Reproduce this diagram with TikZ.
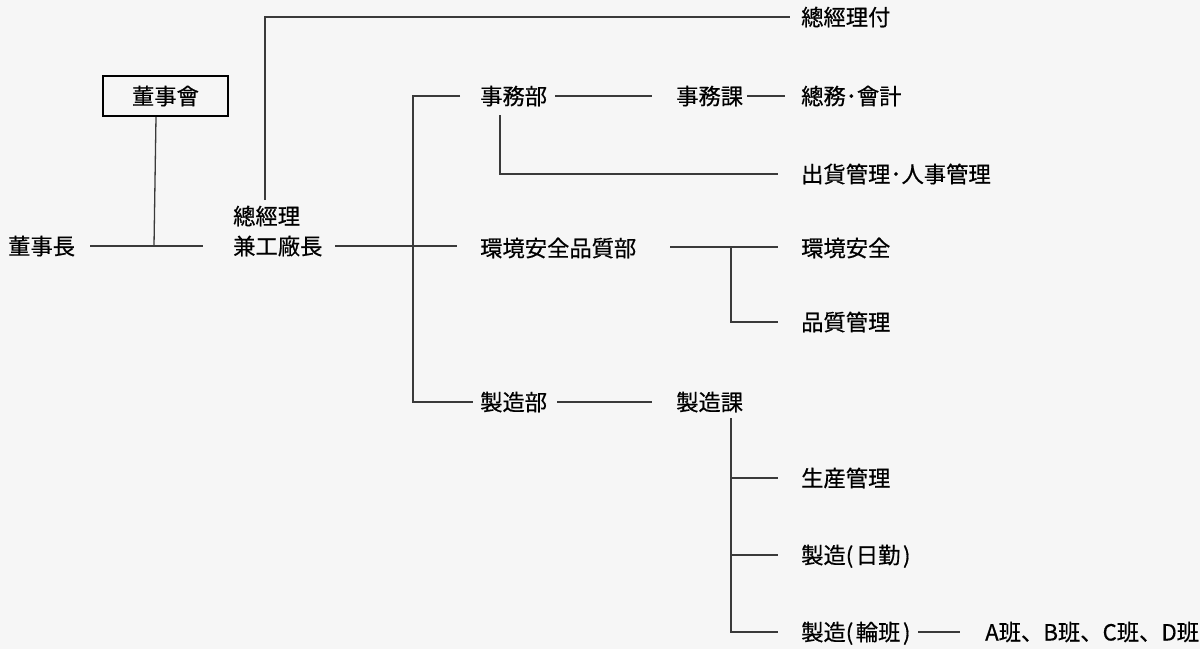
\documentclass[tikz,border=0pt]{standalone}
\usepackage{fontspec}
\newfontfamily\cjk[FakeBold=0.5]{Noto Sans CJK JP}
\definecolor{bg}{HTML}{F6F6F6}
\definecolor{ln}{HTML}{3A3A3A}
\definecolor{tx}{HTML}{000000}
\newcommand\pk{\kern2.5pt}
\begin{document}
\begin{tikzpicture}[x=1pt,y=-1pt,
  lbl/.style={anchor=west,inner sep=0pt,text=tx,font=\cjk\fontsize{22.3}{26}\selectfont,text height=19.5pt,text depth=2.5pt},
  conn/.style={draw=ln,line width=1.3pt},
  boxed/.style={draw=black,line width=2pt,fill=bg,inner sep=0pt,minimum width=125pt,minimum height=40pt,text=tx,font=\cjk\fontsize{22.3}{26}\selectfont,text height=19.5pt,text depth=2.5pt}]
\fill[bg] (0,0) rectangle (1200,649);
\useasboundingbox (0,0) rectangle (1200,649);
% nodes
\node[lbl] (chair) at (8,246) {董事長};
\node[boxed] (board) at (165.5,96) {董事會};
\node[lbl] (gmA) at (233,216) {總經理};
\node[lbl] (gmB) at (233,246) {兼工廠長};
\node[lbl] (fuzoku) at (801,17) {總經理付};
\node[lbl] (jimubu) at (480,96) {事務部};
\node[lbl] (jimuka) at (676,96) {事務課};
\node[lbl] (somu) at (801,96) {總務･會計};
\node[lbl] (shukka) at (801,174) {出貨管理･人事管理};
\node[lbl] (kanbu) at (480,248) {環境安全品質部};
\node[lbl] (kankyo) at (801,248) {環境安全};
\node[lbl] (hin) at (801,322) {品質管理};
\node[lbl] (seibu) at (480,402) {製造部};
\node[lbl] (seika) at (676,402) {製造課};
\node[lbl] (seisan) at (801,478) {生産管理};
\node[lbl] (nikkin) at (801,555) {製造(\pk 日勤\pk)};
\node[lbl] (rinpan) at (801,632) {製造(\pk 輪班\pk)};
\node[lbl] (han) at (985,632) {A班、B班、C班、D班};
% coordinates
\coordinate (c1a) at (90,246);
\coordinate (c1b) at (203,246);
\coordinate (c1m) at (154,246);
\coordinate (c2a) at (265,200);
\coordinate (c2b) at (265,17);
\coordinate (c2c) at (790,17);
\coordinate (c3a) at (335,246);
\coordinate (c3b) at (457,246);
\coordinate (c4a) at (460,96);
\coordinate (c4b) at (413,96);
\coordinate (c4c) at (413,402);
\coordinate (c4d) at (473,402);
\coordinate (c5a) at (555,96);
\coordinate (c5b) at (652,96);
\coordinate (c5c) at (747,96);
\coordinate (c5d) at (785,96);
\coordinate (c6a) at (500,115);
\coordinate (c6b) at (500,174);
\coordinate (c6c) at (778,174);
\coordinate (c7a) at (670,247);
\coordinate (c7b) at (778,247);
\coordinate (c7m) at (731,247);
\coordinate (c7c) at (731,322);
\coordinate (c7d) at (778,322);
\coordinate (c8a) at (557,402);
\coordinate (c8b) at (652,402);
\coordinate (c9a) at (731,418);
\coordinate (c9b) at (731,632);
\coordinate (c9c) at (778,632);
\coordinate (c9d) at (731,478);
\coordinate (c9e) at (778,478);
\coordinate (c9f) at (731,555);
\coordinate (c9g) at (778,555);
\coordinate (c10a) at (918,632);
\coordinate (c10b) at (960,632);
% connectors
\draw[conn] (c1a) -- (c1b);
\draw[conn] ([xshift=-9.5pt]board.south) -- (c1m);
\draw[conn] (c2a) -- (c2b) -- (c2c);
\draw[conn] (c3a) -- (c3b);
\draw[conn] (c4a) -- (c4b) -- (c4c) -- (c4d);
\draw[conn] (c5a) -- (c5b);
\draw[conn] (c5c) -- (c5d);
\draw[conn] (c6a) -- (c6b) -- (c6c);
\draw[conn] (c7a) -- (c7b);
\draw[conn] (c7m) -- (c7c) -- (c7d);
\draw[conn] (c8a) -- (c8b);
\draw[conn] (c9a) -- (c9b) -- (c9c);
\draw[conn] (c9d) -- (c9e);
\draw[conn] (c9f) -- (c9g);
\draw[conn] (c10a) -- (c10b);
\end{tikzpicture}
\end{document}
